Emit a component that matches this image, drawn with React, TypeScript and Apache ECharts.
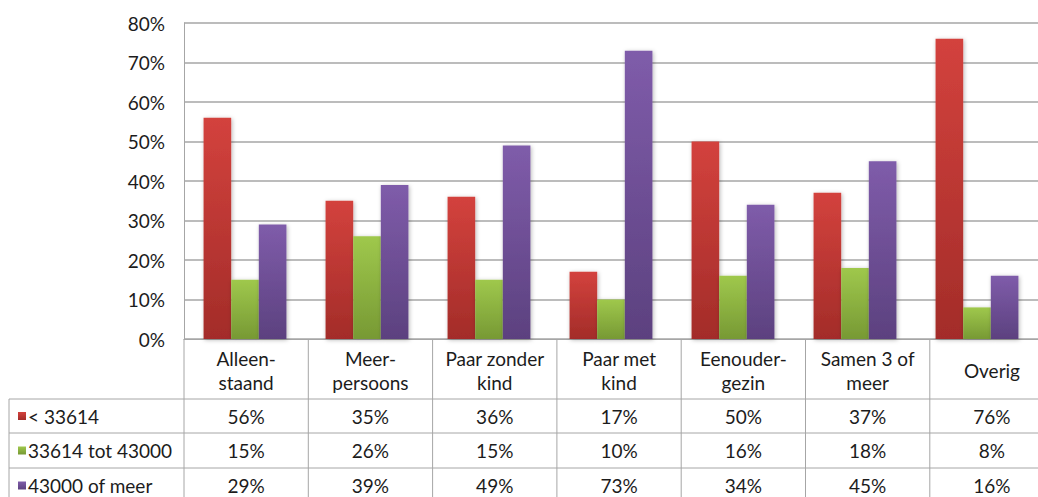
import React, { useEffect, useRef } from "react";
import * as echarts from "echarts";

// Household types (category axis) and the three income groups, in percent
const categories = [
  "Alleen-\nstaand",
  "Meer-\npersoons",
  "Paar zonder\nkind",
  "Paar met\nkind",
  "Eenouder-\ngezin",
  "Samen 3 of\nmeer",
  "Overig",
];
const seriesNames = ["< 33614", "33614 tot 43000", "43000 of meer"];
const lowIncome = [56, 35, 36, 17, 50, 37, 76];
const midIncome = [15, 26, 15, 10, 16, 18, 8];
const highIncome = [29, 39, 49, 73, 34, 45, 16];
const yTicks = { min: 0, max: 80, interval: 10 };

// Layout
const W = 1038;
const H = 497;
const GRID_LEFT = 184;
const GRID_TOP = 23;
const GRID_H = 316;
const COL_W = 124.3;
const GRID_W = COL_W * categories.length;
const AXIS_Y = GRID_TOP + GRID_H;
const TABLE_LEFT = 9;
const ROW_LINES = [399, 433, 468, 503];
const LINE_COLOR = "#a6a6a6";
const TEXT_COLOR = "#1c1c1c";
const FONT = "Lato, 'Open Sans', sans-serif";
const FONT_SIZE = 19;

const gradients = [
  ["#d3423d", "#a32c29"],
  ["#9fc84c", "#779934"],
  ["#7f5caa", "#5c417f"],
];

const fillFor = (i: number) =>
  new echarts.graphic.LinearGradient(0, 0, 0, 1, [
    { offset: 0, color: gradients[i][0] },
    { offset: 1, color: gradients[i][1] },
  ]);

function buildTable(): any[] {
  const els: any[] = [];
  const tableRight = GRID_LEFT + GRID_W;
  const bottom = ROW_LINES[ROW_LINES.length - 1];
  // horizontal rules
  ROW_LINES.forEach((y) => {
    els.push({
      type: "line",
      shape: { x1: TABLE_LEFT, y1: y, x2: tableRight, y2: y },
      style: { stroke: LINE_COLOR, lineWidth: 1 },
      silent: true,
    });
  });
  // left border of the legend column
  els.push({
    type: "line",
    shape: { x1: TABLE_LEFT, y1: ROW_LINES[0], x2: TABLE_LEFT, y2: bottom },
    style: { stroke: LINE_COLOR, lineWidth: 1 },
    silent: true,
  });
  // column separators
  for (let i = 0; i <= categories.length; i++) {
    const x = GRID_LEFT + i * COL_W;
    els.push({
      type: "line",
      shape: { x1: x, y1: AXIS_Y, x2: x, y2: bottom },
      style: { stroke: LINE_COLOR, lineWidth: 1 },
      silent: true,
    });
  }
  // header row: category names
  const headerMid = (AXIS_Y + ROW_LINES[0]) / 2;
  categories.forEach((c, i) => {
    els.push({
      type: "text",
      x: GRID_LEFT + (i + 0.5) * COL_W,
      y: headerMid + 1,
      style: {
        text: c,
        fill: TEXT_COLOR,
        font: `${FONT_SIZE}px ${FONT}`,
        align: "center",
        verticalAlign: "middle",
        lineHeight: 24,
      },
      silent: true,
    });
  });
  // data rows
  const rows = [lowIncome, midIncome, highIncome];
  rows.forEach((vals, r) => {
    const mid = (ROW_LINES[r] + ROW_LINES[r + 1]) / 2;
    els.push({
      type: "rect",
      shape: { x: 18, y: mid - 4, width: 8, height: 8 },
      style: { fill: fillFor(r) },
      silent: true,
    });
    els.push({
      type: "text",
      x: 28,
      y: mid,
      style: {
        text: seriesNames[r],
        fill: TEXT_COLOR,
        font: `${FONT_SIZE}px ${FONT}`,
        align: "left",
        verticalAlign: "middle",
      },
      silent: true,
    });
    vals.forEach((v, i) => {
      els.push({
        type: "text",
        x: GRID_LEFT + (i + 0.5) * COL_W,
        y: mid,
        style: {
          text: `${v}%`,
          fill: TEXT_COLOR,
          font: `${FONT_SIZE}px ${FONT}`,
          align: "center",
          verticalAlign: "middle",
        },
        silent: true,
      });
    });
  });
  return els;
}

export default function App() {
  const ref = useRef<HTMLDivElement>(null);

  useEffect(() => {
    if (!ref.current) return;
    const chart = echarts.init(ref.current, undefined, { renderer: "svg" });
    const barWidth = COL_W / 4.5;
    const mkSeries = (name: string, data: number[], i: number) => ({
      name,
      type: "bar",
      data,
      barWidth,
      barGap: "0%",
      itemStyle: {
        color: fillFor(i),
        shadowColor: "rgba(0,0,0,0.28)",
        shadowBlur: 4,
        shadowOffsetX: 1,
        shadowOffsetY: 1,
      },
    });
    chart.setOption({
      animation: false,
      backgroundColor: "#fff",
      textStyle: { fontFamily: FONT },
      grid: {
        left: GRID_LEFT,
        top: GRID_TOP,
        width: GRID_W,
        height: GRID_H,
        containLabel: false,
      },
      xAxis: {
        type: "category",
        data: categories,
        axisLine: { show: true, lineStyle: { color: LINE_COLOR, width: 1 } },
        axisTick: { show: false },
        axisLabel: { show: false },
        splitLine: { show: false },
      },
      yAxis: {
        type: "value",
        min: yTicks.min,
        max: yTicks.max,
        interval: yTicks.interval,
        axisLine: { show: true, lineStyle: { color: LINE_COLOR, width: 1 } },
        axisTick: { show: false },
        axisLabel: {
          formatter: "{value}%",
          color: TEXT_COLOR,
          fontSize: FONT_SIZE,
          fontFamily: FONT,
          margin: 19,
        },
        splitLine: { show: true, lineStyle: { color: LINE_COLOR, width: 1.5 } },
      },
      series: [
        mkSeries(seriesNames[0], lowIncome, 0),
        mkSeries(seriesNames[1], midIncome, 1),
        mkSeries(seriesNames[2], highIncome, 2),
      ],
      graphic: buildTable(),
    });
    return () => chart.dispose();
  }, []);

  return (
    <div
      ref={ref}
      style={{ position: "fixed", left: 0, top: 0, width: W, height: H, background: "#fff" }}
    />
  );
}
